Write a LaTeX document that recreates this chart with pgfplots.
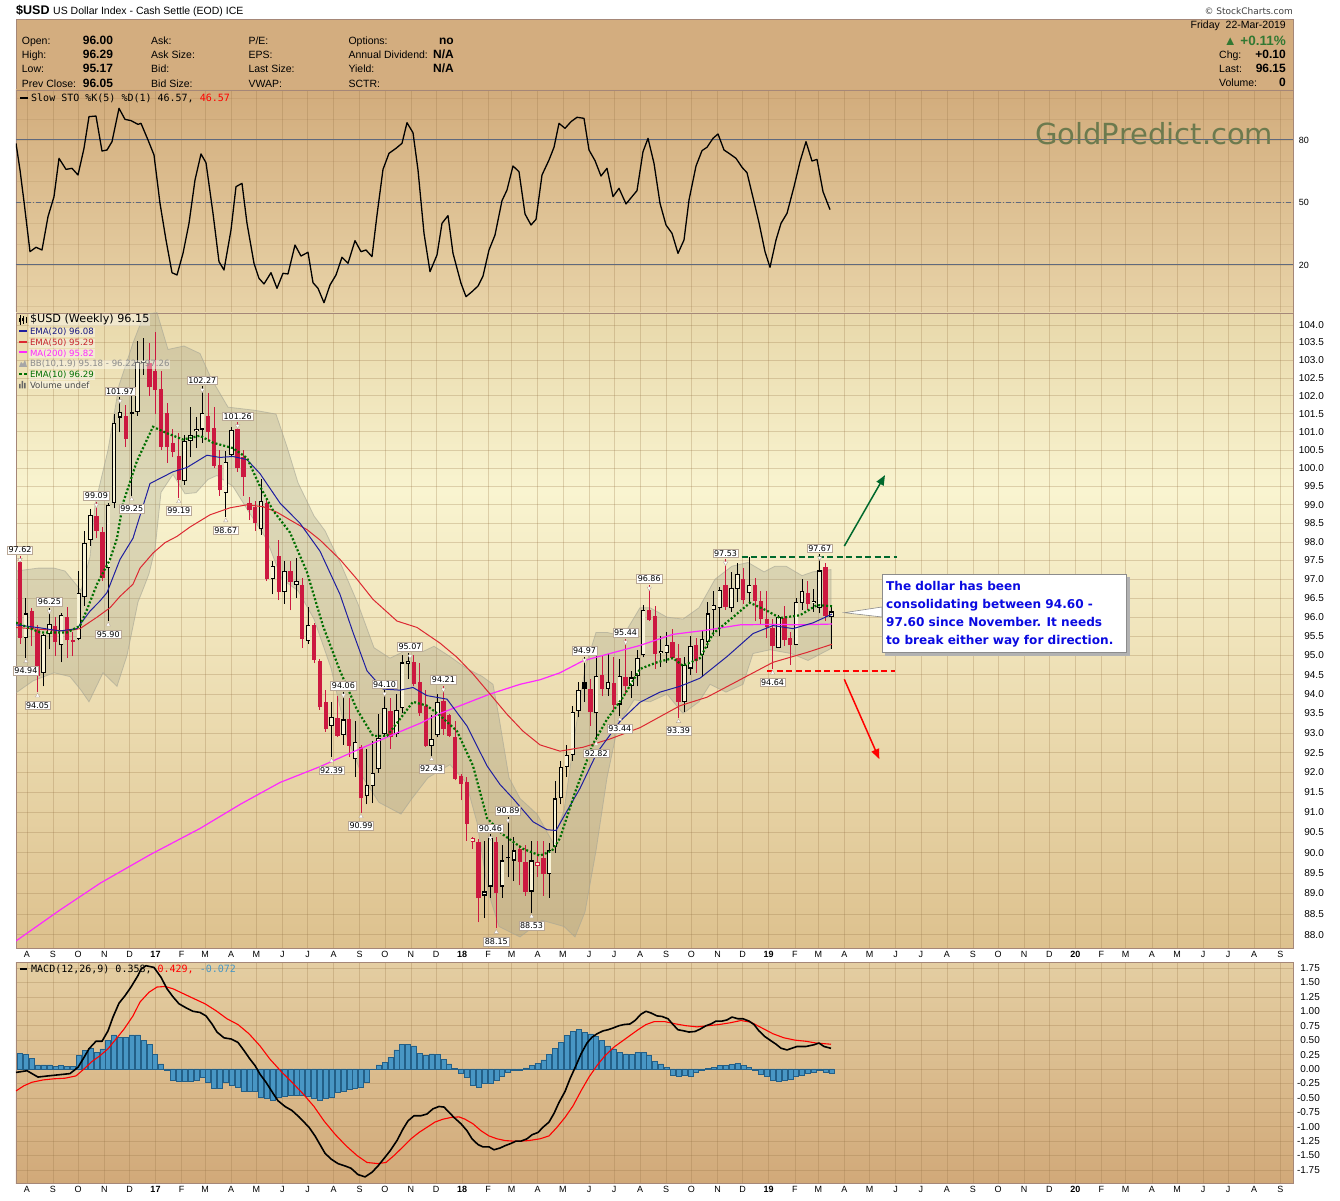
\documentclass[border=0pt]{standalone}
\usepackage{fontspec}
\setmainfont{Liberation Sans}
\newfontfamily\dv{DejaVu Sans}
\newfontfamily\dvm{DejaVu Sans Mono}
\usepackage{pgfplots}
\usepackage{pgfplotstable}
\pgfplotsset{compat=1.18}
\usetikzlibrary{arrows.meta}

\definecolor{hdr}{RGB}{211,173,127}
\definecolor{framec}{RGB}{165,135,120}
\definecolor{mtop}{RGB}{232,216,170}
\definecolor{mmid}{RGB}{249,244,208}
\definecolor{mbot}{RGB}{221,193,142}
\definecolor{sttop}{RGB}{210,172,124}
\definecolor{stbot}{RGB}{232,211,168}
\definecolor{mctop}{RGB}{228,206,162}
\definecolor{mcbot}{RGB}{209,169,121}
\definecolor{cred}{RGB}{204,24,64}
\definecolor{hollowc}{RGB}{248,242,214}
\definecolor{ematw}{RGB}{30,30,160}
\definecolor{emafif}{RGB}{220,40,50}
\definecolor{matwo}{RGB}{255,40,255}
\definecolor{ematen}{RGB}{0,110,0}
\definecolor{bbfill}{RGB}{150,150,128}
\definecolor{bbedge}{RGB}{165,165,150}
\definecolor{histf}{RGB}{72,150,196}
\definecolor{histd}{RGB}{35,95,135}
\definecolor{gridc}{RGB}{150,115,70}
\definecolor{labbord}{RGB}{185,168,150}
\definecolor{wm}{RGB}{108,122,78}
\definecolor{upgreen}{RGB}{50,120,50}
\definecolor{annblue}{RGB}{10,10,225}
\definecolor{dgreen}{RGB}{0,105,45}
\definecolor{stoline}{RGB}{95,105,125}

\pgfdeclareverticalshading{mainbg}{100bp}{color(0bp)=(mbot); color(25bp)=(mbot); color(61bp)=(mmid); color(75bp)=(mtop); color(100bp)=(mtop)}

\pgfplotstableread{
k O H L C t
0 97.47 97.62 95.30 95.46 1
1 95.46 96.50 94.94 96.10 0
2 96.17 96.25 95.25 95.70 1
3 95.66 95.80 94.05 94.47 1
4 94.55 95.55 94.20 95.53 0
5 95.56 96.25 95.16 95.83 0
6 95.77 96.00 94.98 95.36 1
7 95.27 96.10 94.82 96.06 0
8 96.00 96.27 94.93 95.39 1
9 95.40 95.60 94.98 95.36 1
10 95.43 97.22 95.39 96.65 0
11 96.52 98.30 96.30 97.96 0
12 98.06 98.90 97.90 98.73 0
13 98.70 99.09 98.10 98.30 1
14 98.27 98.40 96.95 97.04 1
15 97.29 99.05 95.90 99.00 0
16 99.06 101.50 98.90 101.26 0
17 101.40 101.97 101.00 101.55 0
18 101.44 101.75 100.60 100.81 1
19 101.55 102.00 99.25 101.50 3
20 101.56 103.56 101.45 102.95 0
21 102.95 103.65 102.60 103.00 0
22 102.92 103.50 102.00 102.24 1
23 102.68 103.81 101.50 102.16 1
24 102.20 102.70 100.50 100.60 1
25 101.52 101.80 100.15 100.58 1
26 100.70 101.10 100.30 100.45 1
27 100.34 100.98 99.19 99.68 1
28 99.64 100.90 99.55 100.75 0
29 100.75 101.70 100.30 100.90 0
30 101.02 101.40 100.55 101.07 0
31 101.07 102.27 100.70 101.52 0
32 101.44 102.10 100.80 101.00 1
33 101.12 101.70 100.00 100.07 1
34 100.07 100.50 99.25 99.40 1
35 99.31 100.47 98.67 100.16 0
36 100.36 101.15 100.30 101.05 0
37 101.07 101.26 99.90 100.00 1
38 100.30 100.50 99.25 99.75 1
39 99.05 99.20 98.60 98.86 1
40 98.95 99.10 98.30 98.50 1
41 98.34 99.70 98.20 99.10 0
42 99.05 99.20 96.95 97.00 1
43 97.00 97.50 96.60 97.35 0
44 97.63 98.05 96.45 96.66 1
45 96.66 97.50 96.35 97.22 0
46 97.22 97.50 96.18 96.92 1
47 96.85 97.58 96.50 96.95 0
48 96.85 97.05 95.20 95.42 1
49 95.38 96.27 95.30 95.79 0
50 95.79 95.85 94.80 94.89 1
51 94.86 94.90 93.60 93.66 1
52 93.79 94.10 93.03 93.10 1
53 93.18 93.80 92.39 93.40 0
54 93.38 93.95 92.90 92.93 1
55 92.96 94.06 92.70 93.35 0
56 93.35 93.90 92.40 92.68 1
57 92.34 93.32 91.90 92.77 0
58 92.64 92.70 90.99 91.35 1
59 91.40 92.60 91.20 91.70 0
60 91.67 92.80 91.23 91.98 0
61 92.08 93.50 92.00 92.87 0
62 92.97 94.10 92.90 93.64 0
63 93.57 93.90 92.60 92.90 1
64 92.97 94.00 92.90 93.60 0
65 93.64 95.00 93.50 94.82 0
66 94.77 95.07 94.40 94.85 0
67 94.82 95.00 94.20 94.25 1
68 94.30 94.80 93.45 93.50 1
69 93.70 94.10 92.65 92.68 1
70 92.67 93.45 92.43 92.85 0
71 92.96 94.00 92.90 93.81 0
72 93.81 94.21 92.95 93.10 1
73 93.45 93.50 92.90 92.93 1
74 92.90 93.30 91.80 91.85 1
75 91.90 91.95 91.30 91.70 1
76 91.77 91.90 90.30 90.72 1
77 90.26 90.40 90.10 90.37 2
78 90.26 90.35 88.30 88.88 1
79 88.95 90.30 88.40 89.05 0
80 89.17 90.46 88.90 90.36 0
81 90.26 90.40 88.15 89.01 1
82 89.17 90.20 88.90 89.81 0
83 89.90 90.89 89.40 89.86 3
84 89.81 90.40 89.30 90.06 0
85 90.08 90.20 89.20 89.77 1
86 89.77 90.20 88.95 89.05 1
87 89.05 90.30 88.53 89.81 0
88 89.67 90.30 89.40 89.77 2
89 89.86 90.30 88.95 89.48 1
90 89.48 90.25 88.90 90.06 0
91 90.13 91.80 90.00 91.35 0
92 91.35 92.30 91.20 92.15 0
93 92.15 92.70 91.90 92.45 0
94 92.45 93.70 92.30 93.53 0
95 93.57 94.30 93.40 94.10 0
96 94.31 94.97 93.80 94.14 3
97 94.14 94.40 93.18 93.53 1
98 93.50 95.00 92.82 94.47 0
99 94.48 95.00 93.95 94.14 1
100 94.14 95.05 93.95 94.32 0
101 94.28 94.95 93.60 93.73 1
102 93.73 94.90 93.44 94.47 0
103 94.45 95.44 94.00 94.20 1
104 94.20 94.60 93.90 94.43 0
105 94.47 95.15 94.20 94.93 0
106 95.00 96.32 94.95 96.19 0
107 96.20 96.86 95.90 95.92 1
108 96.03 96.30 94.65 95.05 1
109 95.06 95.50 94.70 95.12 0
110 95.07 95.60 94.80 95.28 0
111 95.35 95.70 94.90 94.93 1
112 94.93 95.30 93.39 93.79 1
113 93.79 94.95 93.55 94.75 0
114 94.66 95.50 94.50 95.26 0
115 95.26 95.45 94.55 94.85 1
116 95.00 95.65 94.45 95.44 0
117 95.35 96.40 95.20 96.10 0
118 96.19 96.70 95.50 96.32 0
119 96.23 96.80 95.50 96.71 0
120 96.85 97.53 96.20 96.28 1
121 96.23 97.20 96.15 96.78 0
122 96.75 97.45 96.40 97.15 0
123 97.02 97.30 96.35 96.45 1
124 96.64 97.60 96.35 96.86 0
125 96.86 97.05 95.90 96.43 1
126 96.42 96.70 95.80 95.95 1
127 95.95 96.70 95.45 95.73 1
128 95.73 95.95 94.64 95.24 1
129 95.20 96.05 95.20 96.00 0
130 95.97 96.30 95.25 95.41 1
131 95.45 95.60 94.75 95.27 1
132 95.27 96.50 95.27 96.40 0
133 96.38 97.00 96.20 96.69 0
134 96.64 96.95 96.20 96.35 1
135 96.37 96.75 96.15 96.43 0
136 96.25 97.67 96.10 97.24 0
137 97.33 97.45 95.90 96.03 1
138 96.00 96.29 95.17 96.15 0
}\candles

\pgfplotstableread{
px p
16 97.22
38 97.30
54 97.30
65 97.22
75 96.90
81 96.70
90 97.60
95 99.00
108 100.50
119 102.30
133 103.50
144 104.30
157 104.35
168 103.30
184 103.40
200 103.20
211 102.50
228 101.70
255 101.60
276 101.50
287 100.60
298 99.60
314 98.70
325 98.30
341 97.40
358 96.35
374 95.20
390 94.93
406 95.13
423 95.10
434 95.24
450 94.97
466 94.67
482 94.46
493 94.25
499 93.40
509 91.87
520 91.35
537 90.96
553 90.25
564 91.05
575 93.00
585 94.67
596 95.60
607 95.60
623 95.50
640 96.25
650 96.25
667 96.00
683 95.95
699 96.25
715 97.00
732 97.35
748 97.45
764 97.20
775 97.35
786 97.35
802 97.10
813 97.20
831 97.26
831 95.18
808 94.87
791 95.05
770 95.15
753 95.05
743 94.25
726 94.05
710 94.25
699 93.80
683 93.50
667 94.00
650 93.80
634 93.85
618 93.20
607 91.87
596 90.05
585 88.55
575 87.95
564 88.20
542 88.35
520 87.95
499 88.20
488 89.05
477 90.75
466 91.75
450 92.20
428 91.87
412 91.35
401 90.96
379 91.25
363 91.87
347 92.90
331 94.67
314 95.95
298 96.70
282 97.00
266 98.10
249 98.80
233 99.50
217 99.80
208 99.69
196 99.33
185 99.30
173 99.83
161 99.34
155 97.80
149 97.15
144 96.80
138 96.40
127 95.00
117 94.20
103 94.55
89 93.80
81 94.10
70 94.45
54 94.55
33 94.34
16 94.03
16 97.22
}\bband

\pgfplotstableread{
px p
16 87.85
60 88.60
100 89.25
150 89.95
200 90.60
240 91.20
280 91.75
320 92.15
360 92.60
390 92.93
420 93.25
440 93.50
465 93.75
490 94.00
520 94.25
540 94.37
560 94.55
583 94.86
610 95.05
640 95.26
673 95.55
707 95.66
740 95.80
773 95.81
800 95.80
832 95.82
}\mat

\pgfplotstableread{
px p
16 95.73
40 95.68
67 95.64
80 95.70
97 96.00
110 96.25
120 96.55
133 96.87
140 97.30
153 97.70
165 97.98
177 98.15
190 98.40
210 98.73
230 98.92
247 99.00
263 98.95
277 98.80
290 98.59
307 98.33
320 98.05
340 97.53
357 97.00
373 96.47
397 95.90
417 95.73
440 95.32
457 94.95
473 94.52
490 94.00
507 93.48
523 93.05
540 92.70
560 92.54
583 92.64
610 92.85
640 93.14
680 93.70
707 93.92
740 94.37
773 94.82
807 95.08
832 95.29
}\emaf

\pgfplotstableread{
px p
16 95.80
40 95.72
60 95.64
77 95.70
90 96.16
100 96.43
107 96.65
120 97.53
133 98.10
150 99.58
173 99.90
187 100.03
207 100.36
220 100.30
233 100.33
247 100.25
260 99.85
280 99.05
300 98.50
320 97.75
340 96.60
353 95.60
367 94.60
383 94.13
400 94.10
413 94.17
427 93.96
447 93.87
467 93.18
487 92.17
500 91.70
513 91.35
533 90.77
547 90.57
556 90.55
565 90.95
580 91.60
597 92.50
620 93.30
640 93.79
660 94.05
680 94.20
700 94.41
727 94.97
753 95.57
773 95.78
793 95.70
813 95.85
832 96.08
}\emat

\pgfplotstableread{
px p
16 95.86
40 95.60
67 95.60
80 95.77
87 96.20
97 96.87
110 97.53
117 98.10
123 99.05
137 100.20
153 101.15
167 100.97
183 100.80
200 100.90
213 100.70
233 100.56
247 100.28
260 99.50
273 98.85
290 98.25
307 97.19
323 95.77
340 94.60
357 93.60
373 92.93
387 92.93
400 93.36
413 93.80
427 93.70
440 93.45
457 93.05
473 92.17
487 90.86
503 90.45
523 90.10
540 89.93
552 90.05
560 90.36
575 91.50
593 92.72
607 93.35
623 93.92
640 94.65
657 94.82
673 94.93
683 94.73
700 94.93
713 95.57
733 96.00
750 96.38
767 96.17
780 95.98
800 96.05
817 96.32
832 96.29
}\ematen

\pgfplotstableread{
px v
16 78.4
20 65.6
24 50.4
30 26.4
36 28.5
42 27.2
48 43.2
54 52.8
59 71.2
66 65.9
72 66.4
78 63.2
84 76
89 91.2
96 91.5
102 74.7
107 75.2
112 79.2
119 95.2
125 89.9
131 89.3
138 87.5
141 88
148 80
154 72.8
160 49.6
166 32
172 16.3
177 15.2
183 25.6
189 40
195 60.8
201 73.3
206 69.1
213 44.8
219 21.6
224 17.6
231 36.8
236 57.6
242 59.2
247 40
254 20.8
259 13.6
264 10.9
271 16.3
277 8.8
283 16
288 15.7
295 29.6
301 24.3
308 26.1
313 11.5
318 8.8
324 1.9
330 10.4
336 15.2
342 23.7
348 20.8
355 31.7
361 26.4
366 27.2
372 24
377 44
383 65.9
389 73.6
396 76
402 78.4
407 88.3
413 83.5
418 65.6
424 35.2
430 16.8
437 24.8
442 40
448 43.7
453 25.6
461 11.2
466 4.8
472 7.2
478 9.9
483 14.7
489 27.2
495 34.4
502 50.9
507 56
513 67.5
519 64.8
525 44.5
531 39.2
536 41.9
542 63.2
549 70.4
554 76.5
559 88
565 85.6
571 88.8
577 90.9
584 90.4
589 75.2
595 70.1
601 62.7
607 66.4
613 52.8
619 56.8
626 49.3
632 52.8
637 55.7
643 74.4
648 80.8
654 68.8
660 49.6
666 39.2
672 35.2
678 25.6
684 32
689 51.2
696 67.5
702 74.9
707 76.5
713 80.8
718 82.9
724 75.2
729 73.6
736 71.2
742 66.9
747 64.3
754 50.4
759 40.3
765 26.4
770 18.9
776 32
781 40
787 44.8
794 57.6
800 69.6
806 79.2
812 69.9
817 70.7
823 55.2
830 46.57
}\sto

\pgfplotstableread{
px v
16 -0.06
27 -0.03
38 -0.14
48 -0.12
59 -0.10
70 -0.08
78 0.03
84 0.20
89 0.35
96 0.48
102 0.48
108 0.66
113 0.90
119 1.14
125 1.27
131 1.42
138 1.62
141 1.73
146 1.79
154 1.76
161 1.59
167 1.39
173 1.25
179 1.13
186 1.06
193 1.00
200 0.98
206 0.92
212 0.78
217 0.64
224 0.54
231 0.52
238 0.46
244 0.32
250 0.17
255 0.06
260 -0.09
266 -0.23
273 -0.42
278 -0.55
285 -0.65
292 -0.72
299 -0.83
304 -0.92
309 -1.01
315 -1.16
320 -1.31
325 -1.46
331 -1.56
338 -1.64
345 -1.68
351 -1.72
358 -1.83
365 -1.87
372 -1.79
378 -1.68
385 -1.53
390 -1.42
397 -1.24
403 -1.04
408 -0.90
414 -0.81
421 -0.81
427 -0.78
433 -0.69
439 -0.65
444 -0.66
449 -0.75
454 -0.84
461 -0.95
467 -1.07
472 -1.21
478 -1.31
483 -1.35
489 -1.35
494 -1.40
500 -1.37
505 -1.33
511 -1.29
516 -1.25
521 -1.25
527 -1.21
532 -1.14
538 -1.10
543 -1.01
549 -0.92
554 -0.77
559 -0.58
565 -0.39
570 -0.17
576 0.06
581 0.26
587 0.45
592 0.55
597 0.61
603 0.66
608 0.68
613 0.71
619 0.75
624 0.77
630 0.78
635 0.84
641 0.95
646 1.00
651 0.97
657 0.92
662 0.91
668 0.87
673 0.77
678 0.68
684 0.66
689 0.64
695 0.65
700 0.69
706 0.75
711 0.78
716 0.83
722 0.83
727 0.85
732 0.90
738 0.87
743 0.87
749 0.83
754 0.77
759 0.66
765 0.56
770 0.50
776 0.43
781 0.36
787 0.33
792 0.36
797 0.39
806 0.39
814 0.42
819 0.45
824 0.39
831 0.358
}\macd

\pgfplotstableread{
px v
16 -0.38
24 -0.29
32 -0.23
43 -0.19
54 -0.17
65 -0.16
76 -0.12
84 0.00
92 0.13
100 0.23
108 0.35
116 0.52
124 0.69
133 0.92
140 1.16
149 1.33
157 1.42
165 1.43
173 1.39
184 1.30
195 1.21
205 1.13
216 1.01
227 0.87
238 0.77
249 0.61
260 0.40
270 0.17
281 -0.04
292 -0.23
303 -0.43
314 -0.65
324 -0.90
335 -1.13
346 -1.33
357 -1.50
367 -1.62
378 -1.64
386 -1.62
394 -1.50
403 -1.35
411 -1.21
419 -1.10
427 -1.01
435 -0.92
443 -0.87
451 -0.84
459 -0.83
465 -0.87
473 -0.95
481 -1.07
489 -1.16
497 -1.21
505 -1.24
513 -1.25
521 -1.25
529 -1.24
540 -1.21
549 -1.16
557 -1.01
565 -0.84
573 -0.64
581 -0.38
589 -0.14
597 0.06
605 0.23
614 0.38
622 0.48
630 0.58
638 0.68
646 0.77
654 0.82
665 0.82
676 0.78
686 0.75
697 0.73
708 0.75
719 0.77
730 0.80
741 0.84
751 0.81
762 0.71
773 0.61
784 0.54
795 0.50
806 0.48
816 0.45
831 0.429
}\sig

\pgfplotstableread{
k h
0 0.27
1 0.25
2 0.19
3 0.07
4 0.07
5 0.07
6 0.05
7 0.06
8 0.05
9 0.05
10 0.23
11 0.32
12 0.36
13 0.29
14 0.35
15 0.50
16 0.59
17 0.55
18 0.55
19 0.59
20 0.59
21 0.50
22 0.42
23 0.25
24 0.09
25 -0.03
26 -0.20
27 -0.21
28 -0.21
29 -0.21
30 -0.19
31 -0.14
32 -0.23
33 -0.33
34 -0.33
35 -0.23
36 -0.29
37 -0.32
38 -0.38
39 -0.39
40 -0.38
41 -0.49
42 -0.50
43 -0.55
44 -0.49
45 -0.48
46 -0.46
47 -0.45
48 -0.45
49 -0.48
50 -0.50
51 -0.55
52 -0.50
53 -0.49
54 -0.40
55 -0.38
56 -0.35
57 -0.33
58 -0.31
59 -0.23
60 -0.01
61 0.07
62 0.12
63 0.20
64 0.33
65 0.43
66 0.43
67 0.40
68 0.27
69 0.23
70 0.26
71 0.25
72 0.17
73 0.09
74 0.01
75 -0.08
76 -0.14
77 -0.29
78 -0.32
79 -0.25
80 -0.25
81 -0.19
82 -0.12
83 -0.06
84 -0.02
85 -0.03
86 0.02
87 0.06
88 0.10
89 0.16
90 0.25
91 0.36
92 0.46
93 0.58
94 0.65
95 0.68
96 0.64
97 0.61
98 0.56
99 0.50
100 0.40
101 0.35
102 0.29
103 0.26
104 0.25
105 0.29
106 0.29
107 0.23
108 0.13
109 0.09
110 0.03
111 -0.10
112 -0.12
113 -0.10
114 -0.12
115 -0.06
116 -0.02
117 0.01
118 0.03
119 0.06
120 0.06
121 0.08
122 0.10
123 0.06
124 0.03
125 -0.02
126 -0.09
127 -0.13
128 -0.20
129 -0.21
130 -0.20
131 -0.17
132 -0.13
133 -0.10
134 -0.08
135 -0.06
136 -0.02
137 -0.06
138 -0.07
}\hist

\pgfplotstableread{
px p txt
20 97.62 97.62
49.4 96.25 96.25
96.4 99.09 99.09
120 101.97 101.97
202.3 102.27 102.27
237.6 101.26 101.26
343.4 94.06 94.06
384.6 94.10 94.10
410 95.07 95.07
443.4 94.21 94.21
490.4 90.46 90.46
508 90.89 90.89
584.5 94.97 94.97
625.6 95.44 95.44
649.2 96.86 96.86
725.6 97.53 97.53
819.7 97.67 97.67
}\hilab

\pgfplotstableread{
px p txt
25.9 94.94 94.94
37.6 94.05 94.05
108.2 95.90 95.90
131.7 99.25 99.25
178.8 99.19 99.19
225.8 98.67 98.67
331.6 92.39 92.39
361 90.99 90.99
431.6 92.43 92.43
496.3 88.15 88.15
531.6 88.53 88.53
596.2 92.82 92.82
619.8 93.44 93.44
678.6 93.39 93.39
772.6 94.64 94.64
}\lolab

\pgfplotstableread{
px p
713 97.60
897 97.60
}\gline
\pgfplotstableread{
px p
767 94.60
895 94.60
}\rline
\pgfplotstableread{
px p
844.3 97.89
885 99.81
}\garrow
\pgfplotstableread{
px p
844.3 94.38
879.3 92.34
}\rarrow

\pgfplotsset{
  panel/.style={
    scale only axis, width=1277pt, xmin=16, xmax=1293,
    axis line style={draw=framec, line width=0.8pt},
    xtick={27,53,78.2,104.3,129.5,155.5,181.6,205.1,231.1,256.3,282.4,307.6,333.6,359.6,384.8,410.9,436.1,462.1,488.2,511.7,537.7,562.9,589,614.2,640.2,666.2,691.4,717.5,742.7,768.7,794.8,818.3,844.3,869.5,895.6,920.8,946.8,972.8,998,1024.1,1049.3,1075.3,1101.4,1125.7,1151.8,1177,1203,1228.2,1254.2,1280.3},
    xticklabels={},
    xmajorgrids, ymajorgrids,
    grid style={draw=gridc, draw opacity=0.28, line width=0.6pt},
    minor grid style={draw=gridc, draw opacity=0.16, line width=0.5pt},
    major tick length=0pt, minor tick length=0pt,
    tick style={draw=none},
    yticklabel pos=right,
  },
  monthlabels/.style={
    xticklabels={A,S,O,N,D,\textbf{17},F,M,A,M,J,J,A,S,O,N,D,\textbf{18},F,M,A,M,J,J,A,S,O,N,D,\textbf{19},F,M,A,M,J,J,A,S,O,N,D,\textbf{20},F,M,A,M,J,J,A,S},
    xticklabel style={font=\fontsize{9}{10}\selectfont, anchor=north, inner sep=0pt, yshift=-3pt},
  },
  candlebar/.style={only marks, mark=*, mark size=0.1pt, mark options={draw opacity=0, fill opacity=0}, forget plot,
    error bars/y dir=plus, error bars/y explicit, error bars/error mark=none},
}
% price p is drawn on a logarithmic scale: Y = 1000 ln(p/88)
\newcommand\lnp[1]{1000*ln(#1/88)}

\begin{document}
\begin{tikzpicture}
\begin{scope}[x=1pt,y=1pt]
\useasboundingbox (0,0) rectangle (1340,1200);
\fill[white] (0,0) rectangle (1340,1200);

% ---------- header ----------
\fill[hdr] (16,1110) rectangle (1293,1181);
\draw[framec, line width=0.8pt] (16,1110) rectangle (1293,1181);
\node[anchor=base west, inner sep=0] at (16,1185) {\fontsize{12.5}{14}\selectfont\bfseries \$USD};
\node[anchor=base west, inner sep=0] at (53,1185) {\fontsize{10.5}{12}\selectfont US Dollar Index - Cash Settle (EOD) ICE};
\node[anchor=base east, inner sep=0, text=black!75] at (1293,1185) {\dv\fontsize{9}{10}\selectfont \textcopyright\ StockCharts.com};

\begin{scope}[every node/.style={anchor=base west, inner sep=0, font=\fontsize{10.5}{12}\selectfont}]
\node at (21.7,1155.7) {Open:};
\node at (21.7,1141.3) {High:};
\node at (21.7,1127) {Low:};
\node at (21.7,1112.7) {Prev Close:};
\node at (151,1155.7) {Ask:};
\node at (151,1141.3) {Ask Size:};
\node at (151,1127) {Bid:};
\node at (151,1112.7) {Bid Size:};
\node at (248.3,1155.7) {P/E:};
\node at (248.3,1141.3) {EPS:};
\node at (248.3,1127) {Last Size:};
\node at (248.3,1112.7) {VWAP:};
\node at (348.3,1155.7) {Options:};
\node at (348.3,1141.3) {Annual Dividend:};
\node at (348.3,1127) {Yield:};
\node at (348.3,1112.7) {SCTR:};
\node at (1219,1141) {Chg:};
\node at (1219,1127) {Last:};
\node at (1219,1113) {Volume:};
\end{scope}
\begin{scope}[every node/.style={anchor=base west, inner sep=0, font=\fontsize{12}{13}\selectfont\bfseries}]
\node at (82.7,1155.7) {96.00};
\node at (82.7,1141.3) {96.29};
\node at (82.7,1127) {95.17};
\node at (82.7,1112.7) {96.05};
\end{scope}
\begin{scope}[every node/.style={anchor=base east, inner sep=0, font=\fontsize{12}{13}\selectfont\bfseries}]
\node at (454,1155.7) {no};
\node at (454,1141.3) {N/A};
\node at (454,1127) {N/A};
\node at (1286,1141) {+0.10};
\node at (1286,1127) {96.15};
\node at (1286,1113) {0};
\end{scope}
\node[anchor=base east, inner sep=0, font=\fontsize{10.5}{12}\selectfont] at (1286,1171) {Friday\ \ 22-Mar-2019};
\node[anchor=base east, inner sep=0, text=upgreen, font=\fontsize{13.5}{15}\selectfont\bfseries] at (1286,1154.3) {{\dv\normalfont\fontsize{13}{14}\selectfont ▲} +0.11\%};
\end{scope}

% ---------- stochastic panel ----------
\begin{axis}[panel, at={(16pt,888pt)}, anchor=south west, height=222pt,
  ymin=-2.56, ymax=104, ytick={20,50,80}, yticklabels={20,50,80}, ymajorgrids=false,
  minor ytick={0,10,...,100}, yminorgrids,
  yticklabel style={font=\fontsize{9}{10}\selectfont, anchor=east, inner sep=0pt, xshift=16pt},
  axis background/.style={top color=sttop, bottom color=stbot}]
\addplot[stoline, line width=1pt, forget plot] coordinates {(16,80) (1293,80)};
\addplot[stoline, line width=1pt, forget plot] coordinates {(16,20) (1293,20)};
\addplot[stoline, line width=0.8pt, dash pattern=on 5pt off 2pt on 1pt off 2pt, forget plot] coordinates {(16,50) (1293,50)};
\addplot[black, line width=1.3pt, line join=round] table[x=px, y=v] {\sto};
\end{axis}

\begin{scope}[x=1pt,y=1pt]
\fill[black] (20,1101.3) rectangle (28,1103.3);
\node[anchor=base west, inner sep=0] at (31,1098.3) {\dvm\fontsize{10}{11}\selectfont Slow STO \%K(5) \%D(1) 46.57, \textcolor{red}{46.57}};
\node[anchor=base west, inner sep=0, text=wm] at (1035,1055) {\resizebox{238pt}{!}{\dv GoldPredict.com}};
\end{scope}

% ---------- main price panel (log price scale) ----------
\begin{axis}[panel, monthlabels, at={(16pt,252pt)}, anchor=south west, height=635pt,
  ymin=-3.643, ymax=170.31,
  ytick={0,5.6658,11.2996,16.9018,22.4729,28.0131,33.5227,39.0022,44.4518,49.8718,55.2627,60.6246,65.9580,71.2631,76.5401,81.7894,87.0114,92.2062,97.3742,102.5156,107.6307,112.7197,117.7831,122.8208,127.8334,132.8209,137.7837,142.7220,147.6360,152.5259,157.3922,162.2348,167.0541},
  yticklabels={88.0,88.5,89.0,89.5,90.0,90.5,91.0,91.5,92.0,92.5,93.0,93.5,94.0,94.5,95.0,95.5,96.0,96.5,97.0,97.5,98.0,98.5,99.0,99.5,100.0,100.5,101.0,101.5,102.0,102.5,103.0,103.5,104.0},
  yticklabel style={font=\fontsize{10}{11}\selectfont, anchor=east, inner sep=0pt, xshift=31pt},
  axis background/.style={shade, shading=mainbg}]
% Bollinger band
\addplot[fill=bbfill, fill opacity=0.28, draw=bbedge, draw opacity=0.6, line width=0.8pt, forget plot] table[x=px, y expr=\lnp{\thisrow{p}}] {\bband};
% wicks
\addplot[candlebar, restrict expr to domain={\thisrow{t}}{0.5:2.5}, error bars/error bar style={line width=1pt, draw=cred}]
  table[x expr=20+5.88*\thisrow{k}, y expr=\lnp{\thisrow{L}}, y error expr={1000*ln(\thisrow{H}/\thisrow{L})}] {\candles};
\addplot[candlebar, restrict expr to domain={abs(\thisrow{t}-1.5)}{1:2}, error bars/error bar style={line width=1pt, draw=black}]
  table[x expr=20+5.88*\thisrow{k}, y expr=\lnp{\thisrow{L}}, y error expr={1000*ln(\thisrow{H}/\thisrow{L})}] {\candles};
% bodies
\addplot[candlebar, restrict expr to domain={\thisrow{t}}{0.5:2.5}, error bars/error bar style={line width=4.4pt, draw=cred}]
  table[x expr=20+5.88*\thisrow{k}, y expr={\lnp{min(\thisrow{O},\thisrow{C})}}, y error expr={max(1000*abs(ln(\thisrow{C}/\thisrow{O})),0.3)}] {\candles};
\addplot[candlebar, restrict expr to domain={abs(\thisrow{t}-1.5)}{1:2}, error bars/error bar style={line width=4.4pt, draw=black}]
  table[x expr=20+5.88*\thisrow{k}, y expr={\lnp{min(\thisrow{O},\thisrow{C})}}, y error expr={max(1000*abs(ln(\thisrow{C}/\thisrow{O})),0.3)}] {\candles};
\addplot[candlebar, restrict expr to domain={mod(\thisrow{t},2)}{-0.5:0.5}, error bars/error bar style={line width=2.8pt, draw=hollowc}]
  table[x expr=20+5.88*\thisrow{k}, y expr={\lnp{min(\thisrow{O},\thisrow{C})}+0.3}, y error expr={max(1000*abs(ln(\thisrow{C}/\thisrow{O}))-0.6,0.01)}] {\candles};
% indicator lines
\addplot[matwo, line width=1.2pt] table[x=px, y expr=\lnp{\thisrow{p}}] {\mat};
\addplot[emafif, line width=1pt] table[x=px, y expr=\lnp{\thisrow{p}}] {\emaf};
\addplot[ematw, line width=1pt] table[x=px, y expr=\lnp{\thisrow{p}}] {\emat};
\addplot[ematen, line width=2.2pt, dash pattern=on 2pt off 2pt] table[x=px, y expr=\lnp{\thisrow{p}}] {\ematen};
% range lines and arrows
\addplot[dgreen, line width=1.8pt, dash pattern=on 6pt off 3.5pt] table[x=px, y expr=\lnp{\thisrow{p}}] {\gline};
\addplot[red, line width=1.8pt, dash pattern=on 6pt off 3.5pt] table[x=px, y expr=\lnp{\thisrow{p}}] {\rline};
\addplot[dgreen, line width=1.5pt, -{Triangle[length=10pt,width=8pt]}] table[x=px, y expr=\lnp{\thisrow{p}}] {\garrow};
\addplot[red, line width=1.5pt, -{Triangle[length=10pt,width=8pt]}] table[x=px, y expr=\lnp{\thisrow{p}}] {\rarrow};
% price labels
\addplot[only marks, mark=triangle*, mark size=2.6pt, mark options={rotate=180, fill=white, draw=labbord, yshift=3.6pt},
  nodes near coords, point meta=explicit symbolic,
  nodes near coords style={anchor=south, yshift=5pt, draw=labbord, fill=white, inner sep=1.2pt, line width=0.6pt, text=black, font=\dv\fontsize{8}{9}\selectfont}]
  table[x=px, y expr=\lnp{\thisrow{p}}, meta=txt] {\hilab};
\addplot[only marks, mark=triangle*, mark size=2.6pt, mark options={fill=white, draw=labbord, yshift=-3.6pt},
  nodes near coords, point meta=explicit symbolic,
  nodes near coords style={anchor=north, yshift=-5pt, draw=labbord, fill=white, inner sep=1.2pt, line width=0.6pt, text=black, font=\dv\fontsize{8}{9}\selectfont}]
  table[x=px, y expr=\lnp{\thisrow{p}}, meta=txt] {\lolab};
\end{axis}

\begin{scope}[x=1pt,y=1pt]
% main legend
\begin{scope}[every node/.style={anchor=base west, inner sep=0.8pt, fill=white, fill opacity=0.4, text opacity=1}]
\node at (29,877) {\dv\fontsize{11.2}{12}\selectfont \$USD (Weekly) 96.15};
\node[text=ematw!80!black] at (29,865) {\dv\fontsize{8.6}{9}\selectfont EMA(20) 96.08};
\node[text=emafif!90!black] at (29,854) {\dv\fontsize{8.6}{9}\selectfont EMA(50) 95.29};
\node[text=matwo] at (29,843.5) {\dv\fontsize{8.6}{9}\selectfont MA(200) 95.82};
\node[text=black!45] at (29,833) {\dv\fontsize{8.6}{9}\selectfont BB(10,1.9) 95.18 - 96.22 - 97.26};
\node[text=ematen] at (29,822) {\dv\fontsize{8.6}{9}\selectfont EMA(10) 96.29};
\node[text=black!70] at (29,811.5) {\dv\fontsize{8.6}{9}\selectfont Volume undef};
\end{scope}
\draw[black, line width=0.6pt] (20,875) -- (20,885) (23,876) -- (23,884) (26,877) -- (26,883);
\fill[black] (19,878) rectangle (21,882);
\fill[black] (22,879) rectangle (24,882);
\fill[ematw] (19,868) rectangle (27,870);
\fill[emafif] (19,857) rectangle (27,859);
\fill[matwo] (19,846.5) rectangle (27,848.5);
\fill[black!35] (19,833) -- (21,838) -- (23,836) -- (25,840) -- (27,833) -- cycle;
\fill[ematen] (19,825) rectangle (22,827);
\fill[ematen] (24,825) rectangle (27,827);
\fill[black!60] (19,811.5) rectangle (20.5,816) (21.5,811.5) rectangle (23,819) (24,811.5) rectangle (25.5,817);

% annotation box
\fill[white, draw=black!45, line width=0.6pt] (882,593) -- (844.3,587.3) -- (882,583) -- cycle;
\fill[black!30] (885,544.3) rectangle (1129.7,622.7);
\draw[black!45, fill=white, line width=0.7pt] (882,547.3) rectangle (1126.7,625.7);
\begin{scope}[every node/.style={anchor=base west, inner sep=0, text=annblue, font=\dv\bfseries\fontsize{12.1}{13}\selectfont}]
\node at (886,609.3) {The dollar has been};
\node at (886,591.7) {consolidating between 94.60 -};
\node at (886,573.3) {97.60 since November. It needs};
\node at (886,555.7) {to break either way for direction.};
\end{scope}
\end{scope}

% ---------- MACD panel ----------
\begin{axis}[panel, monthlabels, at={(16pt,17pt)}, anchor=south west, height=221pt,
  ymin=-1.976, ymax=1.854,
  ytick={-1.75,-1.5,-1.25,-1,-0.75,-0.5,-0.25,0,0.25,0.5,0.75,1,1.25,1.5,1.75},
  yticklabels={-1.75,-1.50,-1.25,-1.00,-0.75,-0.50,-0.25,0.00,0.25,0.50,0.75,1.00,1.25,1.50,1.75},
  yticklabel style={font=\fontsize{10}{11}\selectfont, anchor=east, inner sep=0pt, xshift=27pt},
  axis background/.style={top color=mctop, bottom color=mcbot}]
\addplot[ybar, bar width=5pt, fill=histf, draw=histd, line width=0.5pt] table[x expr=20+5.88*\thisrow{k}, y=h] {\hist};
\addplot[red, line width=1.1pt] table[x=px, y=v] {\sig};
\addplot[black, line width=1.6pt, line join=round] table[x=px, y=v] {\macd};
\end{axis}

\begin{scope}[x=1pt,y=1pt]
\fill[black] (20,230.5) rectangle (27,232.5);
\node[anchor=base west, inner sep=0] at (31,227.5) {\dvm\fontsize{10}{11}\selectfont MACD(12,26,9) 0.358,\textcolor{red}{\ 0.429,}\textcolor{histf}{\ -0.072}};
\end{scope}
\end{tikzpicture}
\end{document}
